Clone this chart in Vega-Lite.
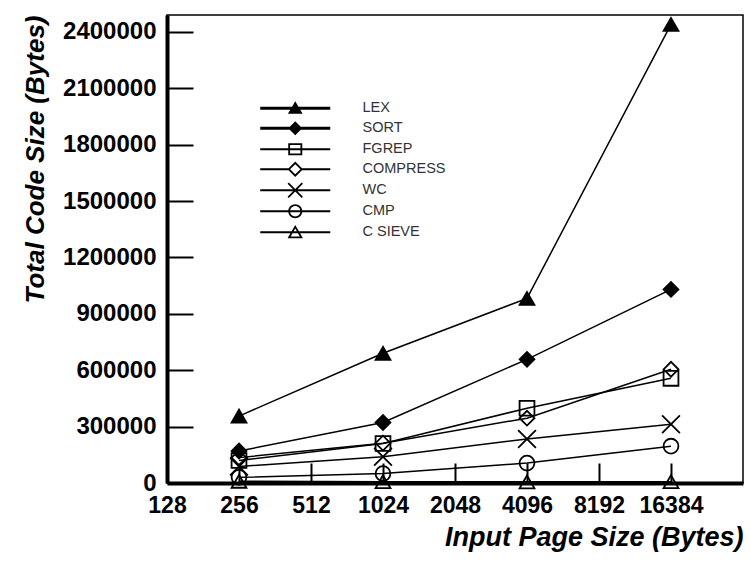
{
  "$schema": "https://vega.github.io/schema/vega-lite/v6.json",
  "width": 576,
  "height": 468,
  "padding": {"left": 22, "top": 14, "right": 7, "bottom": 5},
  "background": "white",
  "config": {
    "view": {"stroke": "black", "strokeWidth": 1.5},
    "font": "Liberation Sans"
  },
  "data": {
    "values": [
      {"series": "LEX", "size": 256, "bytes": 356000},
      {"series": "LEX", "size": 1024, "bytes": 690000},
      {"series": "LEX", "size": 4096, "bytes": 982000},
      {"series": "LEX", "size": 16384, "bytes": 2440000},
      {"series": "SORT", "size": 256, "bytes": 170000},
      {"series": "SORT", "size": 1024, "bytes": 322000},
      {"series": "SORT", "size": 4096, "bytes": 658000},
      {"series": "SORT", "size": 16384, "bytes": 1030000},
      {"series": "FGREP", "size": 256, "bytes": 120000},
      {"series": "FGREP", "size": 1024, "bytes": 210000},
      {"series": "FGREP", "size": 4096, "bytes": 398000},
      {"series": "FGREP", "size": 16384, "bytes": 557000},
      {"series": "COMPRESS", "size": 256, "bytes": 135000},
      {"series": "COMPRESS", "size": 1024, "bytes": 212000},
      {"series": "COMPRESS", "size": 4096, "bytes": 345000},
      {"series": "COMPRESS", "size": 16384, "bytes": 605000},
      {"series": "WC", "size": 256, "bytes": 88000},
      {"series": "WC", "size": 1024, "bytes": 140000},
      {"series": "WC", "size": 4096, "bytes": 234000},
      {"series": "WC", "size": 16384, "bytes": 313000},
      {"series": "CMP", "size": 256, "bytes": 30000},
      {"series": "CMP", "size": 1024, "bytes": 50000},
      {"series": "CMP", "size": 4096, "bytes": 106000},
      {"series": "CMP", "size": 16384, "bytes": 196000},
      {"series": "C  SIEVE", "size": 256, "bytes": 9000},
      {"series": "C  SIEVE", "size": 1024, "bytes": 7000},
      {"series": "C  SIEVE", "size": 4096, "bytes": 6000},
      {"series": "C  SIEVE", "size": 16384, "bytes": 7000}
    ]
  },
  "encoding": {
    "x": {
      "field": "size",
      "type": "quantitative",
      "scale": {"type": "log", "base": 2, "domain": [128, 32768], "nice": false},
      "axis": {
        "title": "Input Page Size (Bytes)",
        "titleAnchor": "end",
        "titleFontSize": 27,
        "titleFontWeight": "bold",
        "titleFontStyle": "italic",
        "titleColor": "black",
        "titlePadding": 7,
        "values": [128, 256, 512, 1024, 2048, 4096, 8192, 16384],
        "format": "d",
        "labelFontSize": 23,
        "labelFontWeight": "bold",
        "labelColor": "black",
        "labelFlush": false,
        "labelOverlap": false,
        "labelPadding": 31,
        "tickSize": -20,
        "tickWidth": 2,
        "tickColor": "black",
        "domainWidth": 4,
        "domainColor": "black",
        "grid": false
      }
    },
    "y": {
      "field": "bytes",
      "type": "quantitative",
      "scale": {"domain": [0, 2490000], "nice": false},
      "axis": {
        "title": "Total Code Size (Bytes)",
        "titleAnchor": "end",
        "titleFontSize": 26,
        "titleFontWeight": "bold",
        "titleFontStyle": "italic",
        "titleColor": "black",
        "titlePadding": 14,
        "values": [0, 300000, 600000, 900000, 1200000, 1500000, 1800000, 2100000, 2400000],
        "format": "d",
        "labelFontSize": 24,
        "labelFontWeight": "bold",
        "labelColor": "black",
        "labelPadding": 37,
        "ticks": true,
        "tickSize": -26,
        "tickWidth": 2,
        "tickColor": "black",
        "domainWidth": 4,
        "domainColor": "black",
        "grid": false
      }
    }
  },
  "layer": [
    {
      "mark": {"type": "line", "color": "black", "strokeWidth": 1.5},
      "encoding": {"detail": {"field": "series"}}
    },
    {
      "mark": {"type": "point", "filled": true, "stroke": "black", "strokeWidth": 1.8, "size": 220, "opacity": 1},
      "encoding": {
        "shape": {
          "field": "series",
          "type": "nominal",
          "scale": {
            "domain": ["LEX", "SORT", "FGREP", "COMPRESS", "WC", "CMP", "C  SIEVE"],
            "range": ["triangle-up", "diamond", "square", "diamond", "M-1.2,-1.2L1.2,1.2M1.2,-1.2L-1.2,1.2", "circle", "triangle-up"]
          },
          "legend": null
        },
        "fill": {
          "field": "series",
          "type": "nominal",
          "scale": {
            "domain": ["LEX", "SORT", "FGREP", "COMPRESS", "WC", "CMP", "C  SIEVE"],
            "range": ["black", "black", "transparent", "transparent", "transparent", "transparent", "transparent"]
          },
          "legend": null
        }
      }
    },
    {
      "transform": [{"filter": "datum.size < 0"}],
      "mark": {"type": "point", "filled": true, "color": "black", "strokeWidth": 0, "size": 196, "opacity": 1},
      "encoding": {
        "shape": {
          "field": "series",
          "type": "nominal",
          "scale": {
            "domain": ["LEX", "SORT", "FGREP", "COMPRESS", "WC", "CMP", "C  SIEVE"],
            "range": [
              "M0,-1L1.05,0.8L-1.05,0.8Z M-5,-0.21H5V0.21H-5Z",
              "M0,-1L1,0L0,1L-1,0Z M-5,-0.21H5V0.21H-5Z",
              "M-1,-0.85H1V0.85H-1Z M-0.74,-0.59V0.59H0.74V-0.59Z M-5,-0.13H5V0.13H-5Z",
              "M0,-1.1L1.1,0L0,1.1L-1.1,0Z M0,-0.73L-0.73,0L0,0.73L0.73,0Z M-5,-0.13H-1V0.13H-5Z M1,-0.13H5V0.13H1Z",
              "M-1.1,-0.92L-0.92,-1.1L1.1,0.92L0.92,1.1Z M-0.92,1.1L-1.1,0.92L0.92,-1.1L1.1,-0.92Z M-5,-0.13H5V0.13H-5Z",
              "M-1,0A1,1 0 1,1 1,0A1,1 0 1,1 -1,0Z M-0.74,0A0.74,0.74 0 1,0 0.74,0A0.74,0.74 0 1,0 -0.74,0Z M-5,-0.13H5V0.13H-5Z",
              "M0,-1.05L1.1,0.85L-1.1,0.85Z M0,-0.531L-0.649,0.59L0.649,0.59Z M-5,-0.13H5V0.13H-5Z"
            ]
          },
          "legend": {
            "title": null,
            "orient": "none",
            "legendX": 121,
            "legendY": 86,
            "padding": 0,
            "symbolSize": 196,
            "symbolStrokeWidth": 0,
            "labelOffset": 60,
            "labelFontSize": 14.5,
            "labelFont": "Liberation Sans",
            "labelColor": "#333",
            "rowPadding": 5
          }
        }
      }
    }
  ],
  "resolve": {"scale": {"shape": "independent"}, "legend": {"shape": "independent"}}
}
